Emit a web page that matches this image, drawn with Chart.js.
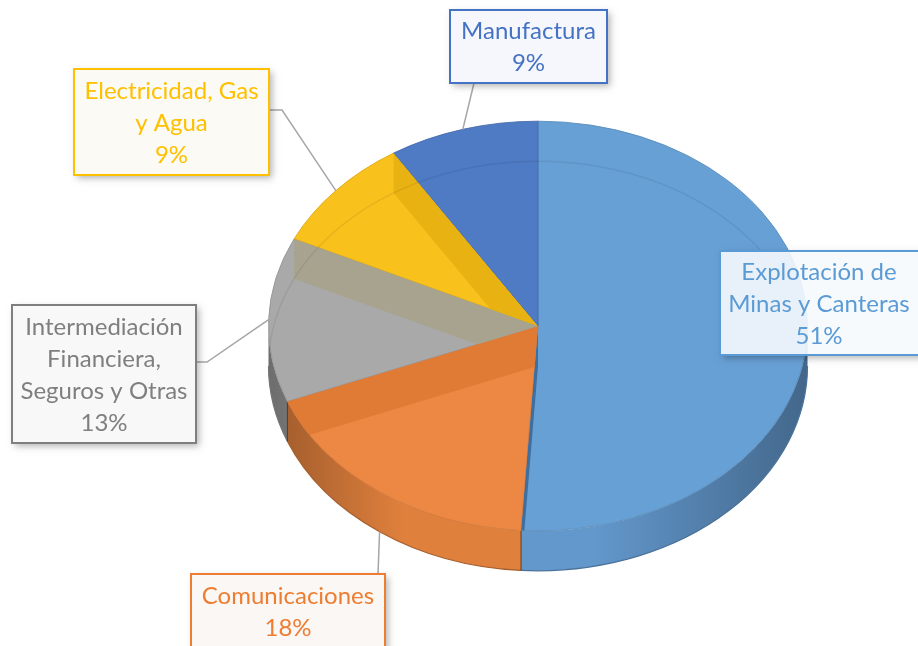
<!DOCTYPE html>
<html>
<head>
<meta charset="utf-8">
<script src="https://cdn.jsdelivr.net/npm/chart.js@4.4.0/dist/chart.umd.min.js"></script>
<style>
  html, body { margin: 0; padding: 0; background: #fff; }
  canvas { display: block; }
</style>
</head>
<body>
<canvas id="sector-pie" width="918" height="646"></canvas>
<script>
// data
const sectors = ['Explotación de Minas y Canteras', 'Comunicaciones', 'Intermediación Financiera, Seguros y Otras', 'Electricidad, Gas y Agua', 'Manufactura'];
const shares = [51, 18, 13, 9, 9];
const labelLines = [
    ['Explotación de', 'Minas y Canteras'],
    ['Comunicaciones'],
    ['Intermediación', 'Financiera,', 'Seguros y Otras'],
    ['Electricidad, Gas', 'y Agua'],
    ['Manufactura']
];

// styles
const topColors = ['#67A0D5', '#EC8843', '#A9A9A9', '#F8C11C', '#4F7AC4'];
const sideColors = ['#6398CC', '#E0803D', '#9C9C9C', '#E2AF18', '#4A70B5'];
const faceColors = ['#3F6F9F', '#E07B36', '#A8A38F', '#E8B312', '#456CB0'];
const textColors = ['#5B9BD5', '#ED7D31', '#7F7F7F', '#FFC000', '#4472C4'];
const boxFills = ['rgba(246,249,253,0.9)', '#FBF7F4', '#F8F8F8', '#FBFAF5', '#F5F7FC'];
const boxes = [
    {x: 720, y: 251, w: 210, h: 104},
    {x: 191, y: 574, w: 194, h: 78},
    {x: 12, y: 305, w: 184, h: 138},
    {x: 74, y: 69, w: 195, h: 106},
    {x: 450, y: 10, w: 157, h: 73}
];
const leaderStarts = [
    [],
    [[378, 574]],
    [[196, 362], [207, 362]],
    [[269, 110], [282, 110]],
    [[474, 83]]
];

const TILT = 0.76;
const DEPTH = 40;
const CENTER_Y = 326;
const FONT = '24px Lato, "Open Sans", sans-serif';

function shade(hex, f) {
    var n = parseInt(hex.slice(1), 16);
    var r = (n >> 16) & 255, g = (n >> 8) & 255, b = n & 255;
    var t = f < 0 ? 0 : 255, p = Math.abs(f);
    r = Math.round((t - r) * p + r);
    g = Math.round((t - g) * p + g);
    b = Math.round((t - b) * p + b);
    return 'rgb(' + r + ',' + g + ',' + b + ')';
}

const pie3d = {
    id: 'pie3d',
    beforeDatasetsDraw(chart) {
        const ctx = chart.ctx;
        const arcs = chart.getDatasetMeta(0).data;

        // side walls, front half only
        arcs.forEach((el, i) => {
            const rx = el.outerRadius, ry = rx * TILT;
            [0, 2 * Math.PI].forEach(off => {
                const a = Math.max(el.startAngle, off), b = Math.min(el.endAngle, off + Math.PI);
                if (b <= a) return;
                const base = sideColors[i];
                const g = ctx.createLinearGradient(el.x - rx, 0, el.x + rx, 0);
                g.addColorStop(0, shade(base, -0.3));
                g.addColorStop(0.25, base);
                g.addColorStop(0.6, base);
                g.addColorStop(1, shade(base, -0.32));
                ctx.beginPath();
                ctx.ellipse(el.x, CENTER_Y, rx, ry, 0, a, b);
                ctx.ellipse(el.x, CENTER_Y + DEPTH, rx, ry, 0, b, a, true);
                ctx.closePath();
                ctx.fillStyle = g;
                ctx.fill();
                ctx.strokeStyle = shade(base, -0.25);
                ctx.lineWidth = 1.2;
                ctx.beginPath();
                ctx.ellipse(el.x, CENTER_Y + DEPTH, rx, ry, 0, a, b);
                ctx.stroke();
            });
        });

        // slice seams on the wall
        arcs.forEach((el, i) => {
            const rx = el.outerRadius, ry = rx * TILT;
            const s = Math.sin(el.startAngle);
            if (s > 0) {
                const x = el.x + rx * Math.cos(el.startAngle), y = CENTER_Y + ry * s;
                ctx.beginPath();
                ctx.moveTo(x, y);
                ctx.lineTo(x, y + DEPTH);
                ctx.strokeStyle = 'rgba(60,40,20,0.8)';
                ctx.lineWidth = 1;
                ctx.stroke();
            }
        });

        ctx.save();
        ctx.translate(0, CENTER_Y);
        ctx.scale(1, TILT);
        ctx.translate(0, -arcs[0].y);
    },
    afterDatasetsDraw(chart) {
        const ctx = chart.ctx;
        ctx.restore();
        const arcs = chart.getDatasetMeta(0).data;
        const cx = arcs[0].x, rx = arcs[0].outerRadius, ry = rx * TILT;

        // cut faces seen through the top
        arcs.forEach((el, i) => {
            const e = el.endAngle;
            if (Math.cos(e) >= 0) return;
            const px = cx + rx * Math.cos(e), py = CENTER_Y + ry * Math.sin(e);
            ctx.save();
            ctx.beginPath();
            ctx.moveTo(cx, CENTER_Y);
            ctx.ellipse(cx, CENTER_Y, rx, ry, 0, el.startAngle, e);
            ctx.closePath();
            ctx.clip();
            ctx.beginPath();
            ctx.moveTo(px, py);
            ctx.lineTo(cx, CENTER_Y);
            ctx.lineTo(cx, CENTER_Y + DEPTH);
            ctx.lineTo(px, py + DEPTH);
            ctx.closePath();
            ctx.fillStyle = faceColors[i];
            ctx.fill();
            ctx.restore();
        });

        // faint back rim seen through the top
        ctx.save();
        ctx.beginPath();
        ctx.ellipse(cx, CENTER_Y, rx, ry, 0, 0, 2 * Math.PI);
        ctx.clip();
        ctx.beginPath();
        ctx.ellipse(cx, CENTER_Y + DEPTH, rx, ry, 0, Math.PI, 2 * Math.PI);
        ctx.strokeStyle = 'rgba(0,0,0,0.07)';
        ctx.lineWidth = 1.5;
        ctx.stroke();
        ctx.restore();
    },
    afterDraw(chart) {
        const ctx = chart.ctx;
        const arcs = chart.getDatasetMeta(0).data;
        const total = shares.reduce((a, b) => a + b, 0);

        // leader lines
        arcs.forEach((el, i) => {
            const pts = leaderStarts[i];
            if (!pts.length) return;
            const rx = el.outerRadius, ry = rx * TILT;
            const mid = (el.startAngle + el.endAngle) / 2;
            let ax = el.x + rx * Math.cos(mid), ay = CENTER_Y + ry * Math.sin(mid);
            if (Math.sin(mid) > 0) ay += DEPTH;
            ctx.beginPath();
            ctx.moveTo(pts[0][0], pts[0][1]);
            for (let k = 1; k < pts.length; k++) ctx.lineTo(pts[k][0], pts[k][1]);
            ctx.lineTo(ax, ay);
            ctx.strokeStyle = '#A6A6A6';
            ctx.lineWidth = 1.5;
            ctx.stroke();
        });

        // callout boxes
        arcs.forEach((el, i) => {
            const b = boxes[i];
            ctx.save();
            ctx.beginPath();
            ctx.rect(0, 0, chart.width, chart.height);
            ctx.rect(b.x, b.y, b.w, b.h);
            ctx.clip('evenodd');
            ctx.shadowColor = 'rgba(0,0,0,0.3)';
            ctx.shadowBlur = 7;
            ctx.shadowOffsetX = 3;
            ctx.shadowOffsetY = 3;
            ctx.fillStyle = '#fff';
            ctx.fillRect(b.x, b.y, b.w, b.h);
            ctx.restore();

            ctx.fillStyle = boxFills[i];
            ctx.fillRect(b.x, b.y, b.w, b.h);
            ctx.strokeStyle = textColors[i];
            ctx.lineWidth = 2;
            ctx.strokeRect(b.x, b.y, b.w, b.h);

            const lines = labelLines[i].concat([Math.round(shares[i] / total * 100) + '%']);
            const lh = 32;
            let y = b.y + b.h / 2 + 1 - (lines.length - 1) * lh / 2;
            if (i === 1) y = 596;
            ctx.font = FONT;
            ctx.fillStyle = textColors[i];
            ctx.textAlign = 'center';
            ctx.textBaseline = 'middle';
            lines.forEach(t => {
                ctx.fillText(t, b.x + b.w / 2 + (i === 0 ? -6 : 0), y);
                y += lh;
            });
        });
    }
};

new Chart(document.getElementById('sector-pie').getContext('2d'), {
    type: 'pie',
    data: {
        labels: sectors,
        datasets: [{
            data: shares,
            backgroundColor: topColors,
            borderColor: topColors.map(c => shade(c, -0.12)),
            borderWidth: 1,
            clip: false
        }]
    },
    options: {
        responsive: false,
        animation: false,
        events: [],
        layout: {padding: {left: 268, right: 110, top: 53, bottom: 53}},
        plugins: {
            legend: {display: false},
            tooltip: {enabled: false}
        }
    },
    plugins: [pie3d]
});
</script>
</body>
</html>
